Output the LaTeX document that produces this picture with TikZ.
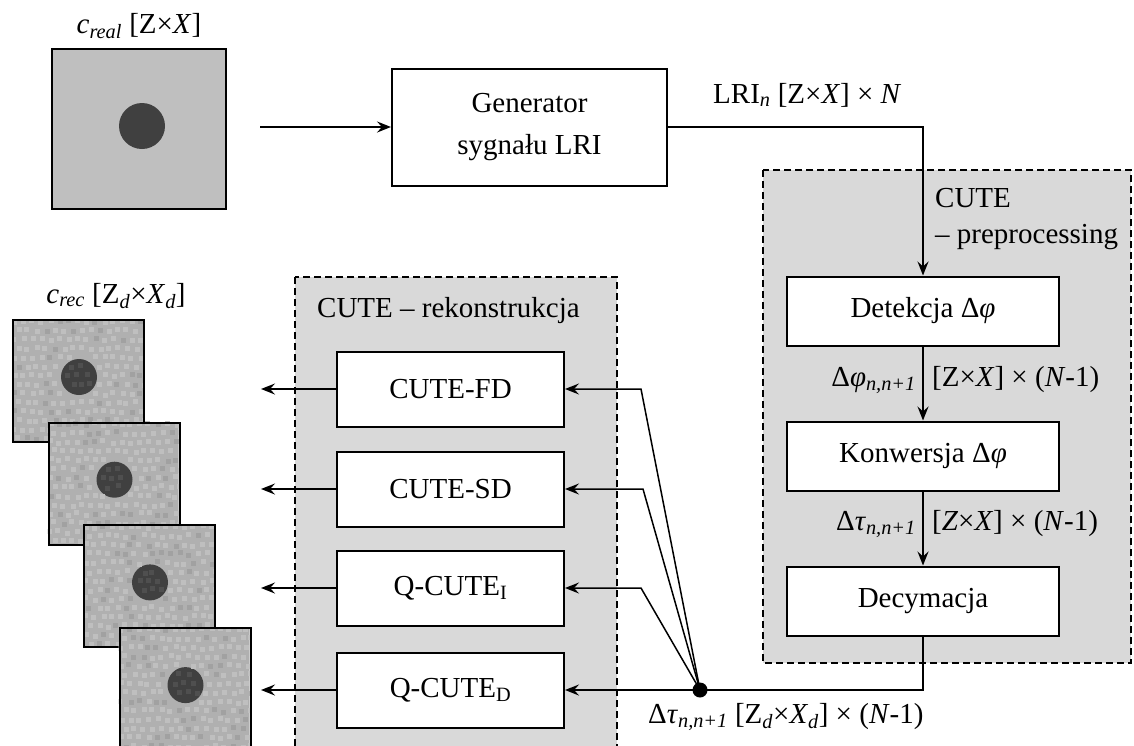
\documentclass[tikz,border=0pt]{standalone}
\usepackage{fontspec}
\setmainfont{Liberation Serif}
\usetikzlibrary{arrows.meta,positioning}

\begin{document}
\begin{tikzpicture}[x=1pt,y=-1pt,
    every node/.style={font=\fontsize{29}{42}\selectfont},
    txt/.style={inner sep=0pt},
    box/.style={draw,line width=2pt,fill=white,inner sep=0pt,align=center},
    pbox/.style={box,minimum width=272pt,minimum height=69pt},
    lbox/.style={box,minimum width=227pt,minimum height=75pt},
    region/.style={fill=black!15,draw,line width=1.4pt,dash pattern=on 7pt off 4pt},
    arr/.style={line width=2pt,-{Stealth[length=14pt,width=11pt,inset=5pt]}},
    fan/.style={line width=1.5pt,-{Stealth[length=14pt,width=11pt,inset=5pt]}},
    wire/.style={line width=2pt}]
      \useasboundingbox (0,0) rectangle (1134,745);
      \draw[region] (295,277) rectangle (617,760);
      \draw[region] (763,170) rectangle (1131,663);

      \node[draw,line width=2pt,fill=black!25,minimum width=174pt,minimum height=160pt,inner sep=0pt] (real) at (139,129) {};
      \fill[black!75] (142,126) circle[radius=23];
      \node[txt,anchor=base] (lreal) at (139,33) {\textit{c}\textsubscript{\textit{real}} [Z×\textit{X}]};

      \node[box,minimum width=275pt,minimum height=117pt] (gen) at (529.5,127) {Generator\\sygnału LRI};
      \node[pbox] (det) at (923,311) {Detekcja Δ\textit{φ}};
      \node[pbox] (konw) at (923,456) {Konwersja Δ\textit{φ}};
      \node[pbox] (decy) at (923,601) {Decymacja};

      \node[lbox] (fd) at (450.5,389) {CUTE-FD};
      \node[lbox] (sd) at (450.5,489) {CUTE-SD};
      \node[lbox] (qi) at (450.5,588) {Q-CUTE\textsubscript{I}};
      \node[lbox] (qd) at (450.5,690) {Q-CUTE\textsubscript{D}};

      \node[txt,anchor=base west] (lri) at (713,103) {LRI\textsubscript{\textit{n}} [Z×\textit{X}] × \textit{N}};
      \node[txt,anchor=base west] (cute1) at (935,207) {CUTE};
      \node[txt,anchor=base west] (cute2) at (935,243) {– preprocessing};
      \node[txt,anchor=base west] (cute3) at (317,317) {CUTE – rekonstrukcja};
      \node[txt,anchor=base east] (lphi) at (916,386) {Δ\textit{φ}\textsubscript{\textit{n,n+1}}};
      \node[txt,anchor=base west] (dphi) at (932,386) {[Z×\textit{X}] × (\textit{N}-1)};
      \node[txt,anchor=base east] (ltau) at (916,530) {Δ\textit{τ}\textsubscript{\textit{n,n+1}}};
      \node[txt,anchor=base west] (dtau) at (932,530) {[\textit{Z}×\textit{X}] × (\textit{N}-1)};
      \node[txt,anchor=base west] (lout) at (648,723) {Δ\textit{τ}\textsubscript{\textit{n,n+1}} [Z\textsubscript{\textit{d}}×\textit{X}\textsubscript{\textit{d}}] × (\textit{N}-1)};
      \node[txt,anchor=base] (lrec) at (116,303) {\textit{c}\textsubscript{\textit{rec}} [Z\textsubscript{\textit{d}}×\textit{X}\textsubscript{\textit{d}}]};

      \pgfmathsetseed{11}
      \foreach \i in {0,...,3}{
        \begin{scope}[shift={(12+35.5*\i,319+102.7*\i)}]
          \begin{scope}
            \clip (0,0) rectangle (131,122);
            \fill[black!31] (0,0) rectangle (131,122);
            \fill[black!75] (67,58) circle[radius=18];
            \foreach \u in {0,...,14}
              \foreach \v in {0,...,13}{
                \pgfmathsetmacro\px{\u*9+mod(\v,2)*4.5+rnd*3-1.5}
                \pgfmathsetmacro\py{\v*9+rnd*3-1.5}
                \pgfmathsetmacro\dd{veclen(\px+2.5-67,\py+2.5-58)}
                \pgfmathtruncatemacro\pc{\dd<15 ? 69 : (\dd>20.5 ? (rnd<0.8 ? 25 : 37) : 0)}
                \ifnum\pc>0 \fill[black!\pc] (\px,\py) rectangle ++(5,5);\fi
              }
          \end{scope}
          \node[draw,line width=2pt,minimum width=131pt,minimum height=122pt,inner sep=0pt,anchor=north west] (rec\i) at (0,0) {};
        \end{scope}
      }

      \coordinate (src) at (260,127);
      \draw[arr] (src) -- (gen.west);
      \draw[arr] (gen.east) -| (det.north);
      \draw[arr] (det.south) -- (konw.north);
      \draw[arr] (konw.south) -- (decy.north);

      \node[circle,fill,inner sep=0pt,minimum size=15pt] (hub) at (700,690) {};
      \draw[wire] (decy.south) |- (hub.center);
      \draw[arr] (hub.center) -- (qd.east);
      \foreach \b/\dx in {fd/76,sd/78,qi/76}
        \draw[fan] (hub.center) -- ([xshift=\dx pt]\b.east) -- (\b.east);
      \foreach \b in {fd,sd,qi,qd}
        \draw[arr] (\b.west) -- ([xshift=-75pt]\b.west);
\end{tikzpicture}
\end{document}
